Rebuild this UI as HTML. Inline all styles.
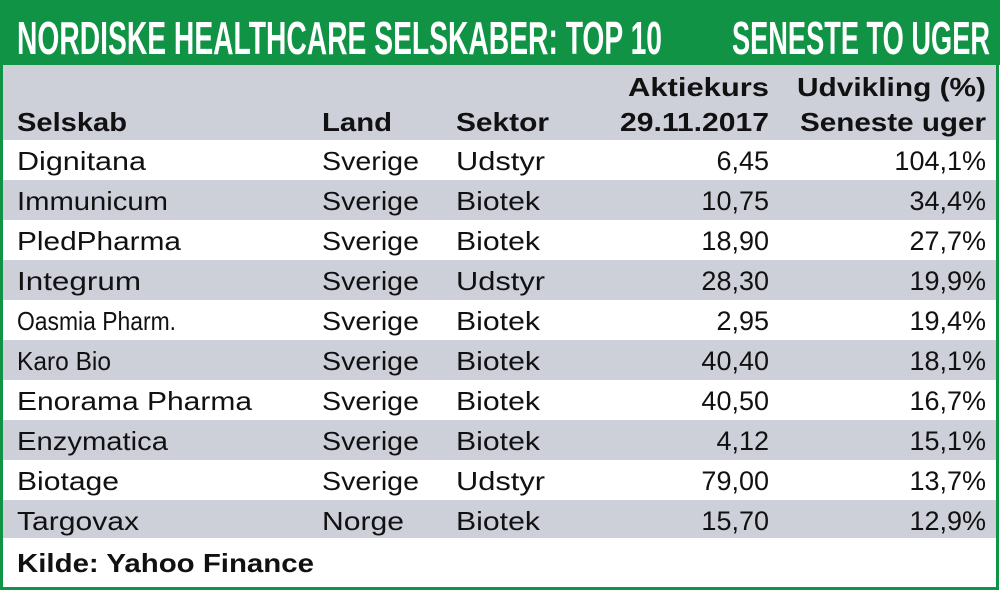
<!DOCTYPE html>
<html><head><meta charset="utf-8"><style>body{margin:0;background:#fff}svg{display:block}</style></head><body>
<svg width="1000" height="591" viewBox="0 0 1000 591" xmlns="http://www.w3.org/2000/svg" font-family="Liberation Sans, sans-serif">
<rect x="0" y="0" width="1000" height="591" fill="#fff"/>
<rect x="0" y="0" width="1000" height="65" fill="#109345"/>
<rect x="3" y="65" width="994" height="75" fill="#cdd0d9"/>
<g fill="#cdd0d9">
<rect x="3" y="180" width="994" height="40"/>
<rect x="3" y="260" width="994" height="40"/>
<rect x="3" y="340" width="994" height="40"/>
<rect x="3" y="420" width="994" height="40"/>
<rect x="3" y="500" width="994" height="38"/>
</g>
<rect x="1.5" y="1.5" width="996" height="587" fill="none" stroke="#109345" stroke-width="3"/>
<g fill="#fff" font-weight="bold" font-size="46">
<text x="17" y="54" textLength="645" lengthAdjust="spacingAndGlyphs">NORDISKE HEALTHCARE SELSKABER: TOP 10</text>
<text x="732" y="54" textLength="258" lengthAdjust="spacingAndGlyphs">SENESTE TO UGER</text>
</g>
<g fill="#111" font-weight="bold" font-size="26">
<text x="17" y="131" textLength="110" lengthAdjust="spacingAndGlyphs">Selskab</text>
<text x="322" y="131" textLength="70" lengthAdjust="spacingAndGlyphs">Land</text>
<text x="456" y="131" textLength="93" lengthAdjust="spacingAndGlyphs">Sektor</text>
<text x="628" y="96" textLength="141" lengthAdjust="spacingAndGlyphs">Aktiekurs</text>
<text x="620" y="131" textLength="149" lengthAdjust="spacingAndGlyphs">29.11.2017</text>
<text x="797" y="96" textLength="189" lengthAdjust="spacingAndGlyphs">Udvikling (%)</text>
<text x="800" y="131" textLength="186" lengthAdjust="spacingAndGlyphs">Seneste uger</text>
<text x="17" y="572" textLength="297" lengthAdjust="spacingAndGlyphs">Kilde: Yahoo Finance</text>
</g>
<g fill="#111" font-size="26">
<text x="17" y="170" textLength="129" lengthAdjust="spacingAndGlyphs">Dignitana</text>
<text x="17" y="210" textLength="151" lengthAdjust="spacingAndGlyphs">Immunicum</text>
<text x="17" y="250" textLength="164" lengthAdjust="spacingAndGlyphs">PledPharma</text>
<text x="17" y="290" textLength="124" lengthAdjust="spacingAndGlyphs">Integrum</text>
<text x="17" y="330" textLength="159" lengthAdjust="spacingAndGlyphs">Oasmia Pharm.</text>
<text x="17" y="370" textLength="94" lengthAdjust="spacingAndGlyphs">Karo Bio</text>
<text x="17" y="410" textLength="235" lengthAdjust="spacingAndGlyphs">Enorama Pharma</text>
<text x="17" y="450" textLength="151" lengthAdjust="spacingAndGlyphs">Enzymatica</text>
<text x="17" y="490" textLength="102" lengthAdjust="spacingAndGlyphs">Biotage</text>
<text x="17" y="530" textLength="122" lengthAdjust="spacingAndGlyphs">Targovax</text>
<text x="322" y="170" textLength="97" lengthAdjust="spacingAndGlyphs">Sverige</text>
<text x="322" y="210" textLength="97" lengthAdjust="spacingAndGlyphs">Sverige</text>
<text x="322" y="250" textLength="97" lengthAdjust="spacingAndGlyphs">Sverige</text>
<text x="322" y="290" textLength="97" lengthAdjust="spacingAndGlyphs">Sverige</text>
<text x="322" y="330" textLength="97" lengthAdjust="spacingAndGlyphs">Sverige</text>
<text x="322" y="370" textLength="97" lengthAdjust="spacingAndGlyphs">Sverige</text>
<text x="322" y="410" textLength="97" lengthAdjust="spacingAndGlyphs">Sverige</text>
<text x="322" y="450" textLength="97" lengthAdjust="spacingAndGlyphs">Sverige</text>
<text x="322" y="490" textLength="97" lengthAdjust="spacingAndGlyphs">Sverige</text>
<text x="322" y="530" textLength="82" lengthAdjust="spacingAndGlyphs">Norge</text>
<text x="456" y="170" textLength="89" lengthAdjust="spacingAndGlyphs">Udstyr</text>
<text x="456" y="210" textLength="84" lengthAdjust="spacingAndGlyphs">Biotek</text>
<text x="456" y="250" textLength="84" lengthAdjust="spacingAndGlyphs">Biotek</text>
<text x="456" y="290" textLength="89" lengthAdjust="spacingAndGlyphs">Udstyr</text>
<text x="456" y="330" textLength="84" lengthAdjust="spacingAndGlyphs">Biotek</text>
<text x="456" y="370" textLength="84" lengthAdjust="spacingAndGlyphs">Biotek</text>
<text x="456" y="410" textLength="84" lengthAdjust="spacingAndGlyphs">Biotek</text>
<text x="456" y="450" textLength="84" lengthAdjust="spacingAndGlyphs">Biotek</text>
<text x="456" y="490" textLength="89" lengthAdjust="spacingAndGlyphs">Udstyr</text>
<text x="456" y="530" textLength="84" lengthAdjust="spacingAndGlyphs">Biotek</text>
</g>
<g fill="#111" font-size="27" text-anchor="end">
<text x="769" y="170">6,45</text><text x="986" y="170">104,1%</text>
<text x="769" y="210">10,75</text><text x="986" y="210">34,4%</text>
<text x="769" y="250">18,90</text><text x="986" y="250">27,7%</text>
<text x="769" y="290">28,30</text><text x="986" y="290">19,9%</text>
<text x="769" y="330">2,95</text><text x="986" y="330">19,4%</text>
<text x="769" y="370">40,40</text><text x="986" y="370">18,1%</text>
<text x="769" y="410">40,50</text><text x="986" y="410">16,7%</text>
<text x="769" y="450">4,12</text><text x="986" y="450">15,1%</text>
<text x="769" y="490">79,00</text><text x="986" y="490">13,7%</text>
<text x="769" y="530">15,70</text><text x="986" y="530">12,9%</text>
</g>
</svg>
</body></html>
